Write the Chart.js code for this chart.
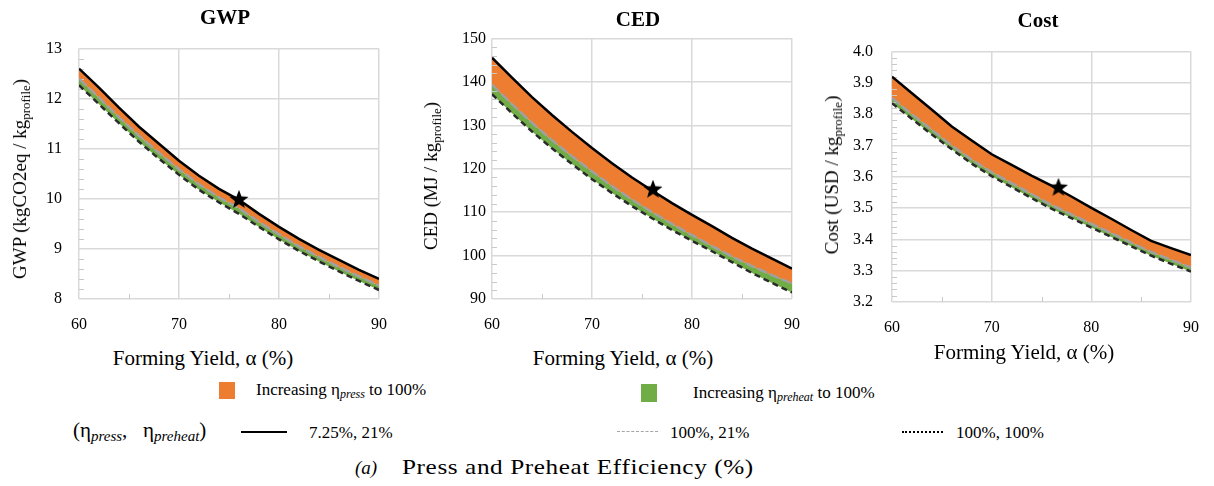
<!DOCTYPE html>
<html>
<head>
<meta charset="utf-8">
<script src="https://cdn.jsdelivr.net/npm/chart.js@4.4.0/dist/chart.umd.min.js"></script>
<style>
  body { margin: 0; background: #fff; overflow: hidden; }
  #wrap { position: relative; width: 1214px; height: 486px; overflow: hidden; font-family: "Liberation Serif", "Times New Roman", serif; color: #000; }
  canvas { position: absolute; }
  .txt { position: absolute; white-space: nowrap; line-height: 1; }
  .title { font-weight: bold; font-size: 21px; transform: translate(-50%, -50%); }
  .xtitle { font-size: 21px; transform: translate(-50%, -50%); }
  .ytitle { font-size: 19px; transform: translate(-50%, -50%) rotate(-90deg); }
  .ytitle sub { font-size: 13px; vertical-align: -4px; }
  .leg { font-size: 17px; transform: translateY(-50%); }
  .leg sub { font-style: italic; font-size: 12px; vertical-align: -3px; }
  .math { font-size: 21px; }
  .math sub { font-size: 15px; vertical-align: -4px; }
  .caption { font-size: 21px; letter-spacing: 0.5px; transform-origin: left center; transform: translateY(-50%) scaleX(1.2); }
  .swatch { position: absolute; }
  .sample { position: absolute; height: 0; }
</style>
</head>
<body>
<div id="wrap">
  <canvas id="gwpChart" width="374" height="317" style="left:29px;top:22px;"></canvas>
  <canvas id="cedChart" width="374" height="316" style="left:442px;top:23px;"></canvas>
  <canvas id="costChart" width="373" height="319" style="left:842px;top:23px;"></canvas>

  <div class="txt title" style="left:225px;top:17px;">GWP</div>
  <div class="txt title" style="left:638px;top:19px;">CED</div>
  <div class="txt title" style="left:1038px;top:20px;">Cost</div>

  <div class="txt ytitle" style="left:21px;top:179px;">GWP (kgCO2eq / kg<sub>profile</sub>)</div>
  <div class="txt ytitle" style="left:432px;top:176px;">CED (MJ / kg<sub>profile</sub>)</div>
  <div class="txt ytitle" style="left:833px;top:175px;">Cost (USD / kg<sub>profile</sub>)</div>

  <div class="txt xtitle" style="left:203px;top:358px;">Forming Yield, α (%)</div>
  <div class="txt xtitle" style="left:623px;top:358px;">Forming Yield, α (%)</div>
  <div class="txt xtitle" style="left:1024px;top:352px;">Forming Yield, α (%)</div>

  <div class="swatch" style="left:219px;top:382px;width:16px;height:17px;background:#ED7D31;"></div>
  <div class="txt leg" style="left:256px;top:390px;">Increasing η<sub>press</sub> to 100%</div>
  <div class="swatch" style="left:641px;top:384px;width:16px;height:18px;background:#70AD47;"></div>
  <div class="txt leg" style="left:693px;top:393px;">Increasing η<sub>preheat</sub> to 100%</div>

  <div class="txt leg math" style="left:73px;top:432px;">(η<sub>press</sub>,&nbsp;&nbsp; η<sub>preheat</sub>)</div>
  <div class="sample" style="left:241px;top:431px;width:46px;border-top:2.5px solid #000;"></div>
  <div class="txt leg" style="left:309px;top:432px;">7.25%, 21%</div>
  <div class="sample" style="left:617px;top:431px;width:41px;border-top:1.5px dashed #a5a5a5;"></div>
  <div class="txt leg" style="left:670px;top:432px;">100%, 21%</div>
  <div class="sample" style="left:902px;top:431px;width:41px;border-top:2px dotted #000;"></div>
  <div class="txt leg" style="left:956px;top:432px;">100%, 100%</div>

  <div class="txt leg" style="left:355px;top:467px;font-size:19px;"><i>(a)</i></div>
  <div class="txt caption" style="left:402px;top:467px;">Press and Preheat Efficiency (%)</div>
</div>

<script>
// forming yield (%) on the x axis
const yieldPct = [60, 62, 64, 66, 68, 70, 72, 74, 76, 78, 80, 82, 84, 86, 88, 90];

// (eta_press, eta_preheat) = (7.25%, 21%), (100%, 21%), (100%, 100%)
const gwpBase  = [12.60, 12.22, 11.82, 11.44, 11.10, 10.76, 10.46, 10.20, 9.98, 9.70, 9.44, 9.20, 8.98, 8.78, 8.58, 8.40];
const gwpPress = [12.40, 12.02, 11.63, 11.26, 10.92, 10.59, 10.29, 10.03, 9.81, 9.54, 9.29, 9.05, 8.84, 8.64, 8.45, 8.27];
const gwpBoth  = [12.27, 11.89, 11.51, 11.14, 10.80, 10.48, 10.18, 9.93, 9.70, 9.44, 9.19, 8.96, 8.75, 8.55, 8.36, 8.18];

const cedBase  = [145.6, 141.0, 136.5, 132.4, 128.5, 124.8, 121.3, 118.0, 115.0, 112.1, 109.4, 106.8, 104.1, 101.6, 99.3, 97.0];
const cedPress = [139.4, 134.9, 130.6, 126.6, 122.9, 119.4, 116.0, 112.9, 110.0, 107.3, 104.7, 102.2, 99.8, 97.6, 95.5, 93.6];
const cedBoth  = [137.2, 132.8, 128.6, 124.7, 121.1, 117.6, 114.4, 111.4, 108.6, 105.9, 103.4, 101.0, 98.5, 96.0, 93.7, 91.5];

const costBase  = [3.920, 3.867, 3.814, 3.761, 3.716, 3.672, 3.638, 3.604, 3.572, 3.537, 3.501, 3.466, 3.430, 3.395, 3.372, 3.350];
const costPress = [3.852, 3.800, 3.750, 3.700, 3.655, 3.615, 3.580, 3.545, 3.510, 3.480, 3.450, 3.420, 3.390, 3.360, 3.335, 3.310];
const costBoth  = [3.835, 3.785, 3.735, 3.688, 3.642, 3.602, 3.567, 3.532, 3.498, 3.468, 3.438, 3.408, 3.378, 3.348, 3.322, 3.297];

// current operating point (star) for GWP, CED, Cost
const starYield = [76.0, 76.1, 76.7];
const starValue = [9.98, 115.2, 3.565];

// y axis ranges: [min, max, major step, minor step]
const gwpAxis  = [8, 13, 1, 0.2];
const cedAxis  = [90, 150, 10, 2];
const costAxis = [3.2, 4.0, 0.1, 0.02];
const xTicks = [60, 70, 80, 90];
const xMinorTicks = [65, 75, 85];

const ORANGE = "#ED7D31";
const GREEN = "#70AD47";
const GRAY = "#A0A0A0";
const GRID = "#d9d9d9";

// filled five-point star used as the point marker
function makeStar(size) {
  const c = document.createElement("canvas");
  c.width = size;
  c.height = size;
  const g = c.getContext("2d");
  const cx = size / 2, cy = size / 2, outer = size / 2, inner = size / 2 * 0.42;
  g.beginPath();
  for (let i = 0; i < 10; i++) {
    const r = i % 2 === 0 ? outer : inner;
    const a = -Math.PI / 2 + i * Math.PI / 5;
    const px = cx + r * Math.cos(a), py = cy + r * Math.sin(a);
    if (i === 0) g.moveTo(px, py); else g.lineTo(px, py);
  }
  g.closePath();
  g.fillStyle = "#000";
  g.fill();
  return c;
}
const starImg = makeStar(20);

// short tick marks inside the plot frame
const minorTicks = {
  id: "minorTicks",
  beforeDatasetsDraw(chart, args, opts) {
    const ctx = chart.ctx;
    const area = chart.chartArea;
    const ys = chart.scales.y;
    const xs = chart.scales.x;
    ctx.save();
    ctx.strokeStyle = "#c8c8c8";
    ctx.lineWidth = 1;
    ctx.beginPath();
    const n = Math.round((opts.max - opts.min) / opts.step);
    for (let i = 1; i < n; i++) {
      if (i % 5 === 0) continue;
      const py = Math.round(ys.getPixelForValue(opts.min + i * opts.step)) + 0.5;
      ctx.moveTo(area.left, py);
      ctx.lineTo(area.left + 5, py);
    }
    xMinorTicks.forEach((v) => {
      const px = Math.round(xs.getPixelForValue(v)) + 0.5;
      ctx.moveTo(px, area.bottom);
      ctx.lineTo(px, area.bottom - 5);
    });
    ctx.stroke();
    ctx.restore();
  },
};

function points(values) {
  return yieldPct.map((x, i) => ({ x: x, y: values[i] }));
}

function createPanel(id, base, press, both, axis, starIdx, labelGap, decimals) {
  const ctx = document.getElementById(id).getContext("2d");
  return new Chart(ctx, {
    type: "line",
    data: {
      datasets: [
        {
          label: "current",
          data: [{ x: starYield[starIdx], y: starValue[starIdx] }],
          showLine: false,
          pointStyle: starImg,
          pointRadius: 10,
          fill: false,
        },
        {
          label: "7.25%, 21%",
          data: points(base),
          borderColor: "#000",
          borderWidth: 2.5,
          pointRadius: 0,
          fill: "+1",
          backgroundColor: ORANGE,
        },
        {
          label: "100%, 21%",
          data: points(press),
          borderColor: GRAY,
          borderWidth: 2.5,
          borderDash: [10, 3],
          pointRadius: 0,
          fill: "+1",
          backgroundColor: GREEN,
        },
        {
          label: "100%, 100%",
          data: points(both),
          borderColor: "#2b2b2b",
          borderWidth: 2.5,
          borderDash: [6, 4],
          pointRadius: 0,
          fill: false,
        },
      ],
    },
    options: {
      responsive: false,
      animation: false,
      events: [],
      layout: { padding: { top: 10, right: 16, left: 0, bottom: 0 } },
      plugins: {
        legend: { display: false },
        tooltip: { enabled: false },
        filler: { drawTime: "beforeDatasetsDraw" },
        minorTicks: { min: axis[0], max: axis[1], step: axis[3] },
      },
      scales: {
        x: {
          type: "linear",
          min: 60,
          max: 90,
          afterBuildTicks: (scale) => {
            scale.ticks = xTicks.map((v) => ({ value: v }));
          },
          afterFit: (scale) => {
            scale.height = 40;
          },
          grid: { color: GRID, lineWidth: 1.5, drawTicks: false },
          border: { display: false },
          ticks: {
            padding: 16,
            color: "#000",
            font: { family: "Liberation Serif", size: 16 },
          },
        },
        y: {
          type: "linear",
          min: axis[0],
          max: axis[1],
          afterFit: (scale) => {
            scale.width = 50;
          },
          grid: { color: GRID, lineWidth: 1.5, drawTicks: false },
          border: { display: false },
          ticks: {
            stepSize: axis[2],
            padding: labelGap,
            color: "#000",
            font: { family: "Liberation Serif", size: 16 },
            callback: (v) => Number(v).toFixed(decimals),
          },
        },
      },
    },
    plugins: [minorTicks],
  });
}

createPanel("gwpChart", gwpBase, gwpPress, gwpBoth, gwpAxis, 0, 17, 0);
createPanel("cedChart", cedBase, cedPress, cedBoth, cedAxis, 1, 6, 0);
createPanel("costChart", costBase, costPress, costBoth, costAxis, 2, 19, 1);
</script>
</body>
</html>
